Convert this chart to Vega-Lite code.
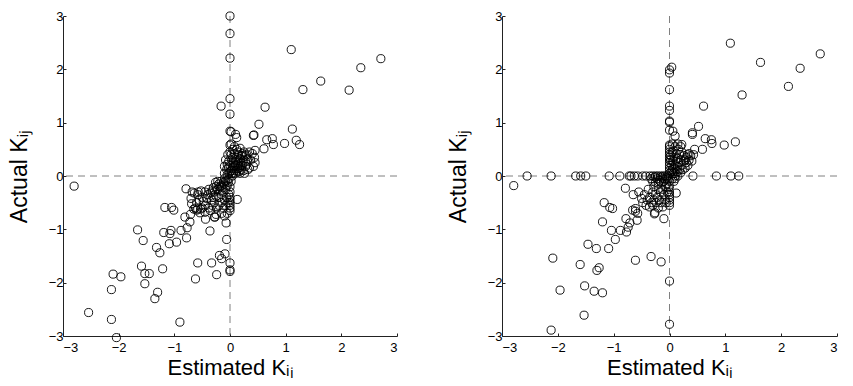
{
  "$schema": "https://vega.github.io/schema/vega-lite/v6.json",
  "background": "white",
  "padding": {"left": 8, "top": 10, "right": 5, "bottom": 0},
  "spacing": 49,
  "config": {
    "view": {"stroke": null},
    "font": "Liberation Sans",
    "axis": {
      "grid": false,
      "domainColor": "#222222",
      "tickColor": "#222222",
      "tickSize": -3,
      "labelPadding": 4,
      "labelFont": "Liberation Sans",
      "labelFontSize": 13,
      "labelColor": "#000000",
      "titleFont": "Liberation Sans",
      "titleFontSize": 22,
      "titleFontWeight": "normal",
      "titleColor": "#000000"
    },
    "axisX": {"titlePadding": 3, "labelPadding": 8},
    "axisY": {"titlePadding": 17, "labelPadding": 3, "titleFontSize": 23}
  },
  "datasets": {
    "left": [
      {"x":0,"y":3.0},{"x":0,"y":2.67},{"x":0,"y":2.21},{"x":1.10,"y":2.37},{"x":2.71,"y":2.2},{"x":2.35,"y":2.03},{"x":1.63,"y":1.78},{"x":1.31,"y":1.62},{"x":2.14,"y":1.61},{"x":0,"y":1.45},{"x":0,"y":1.16},{"x":-0.16,"y":1.31},{"x":0.63,"y":1.29},{"x":0.52,"y":0.97},{"x":1.12,"y":0.88},{"x":0,"y":0.84},{"x":0.02,"y":0.83},{"x":0.42,"y":0.76},{"x":0.43,"y":0.77},{"x":0.12,"y":0.72},{"x":0.10,"y":0.78},{"x":0.66,"y":0.68},{"x":0.76,"y":0.70},{"x":0.78,"y":0.59},{"x":0.98,"y":0.61},{"x":1.19,"y":0.67},{"x":1.25,"y":0.59},{"x":0,"y":0.58},{"x":0.61,"y":0.51},{"x":0.45,"y":0.48},{"x":0.35,"y":0.45},{"x":0.30,"y":0.40},{"x":0.25,"y":0.45},{"x":0.18,"y":0.52},{"x":0.44,"y":0.35},{"x":0.45,"y":0.25},{"x":0.42,"y":0.18},{"x":0.37,"y":0.30},{"x":0.28,"y":0.28},{"x":0.22,"y":0.38},{"x":0.40,"y":0.42},
      {"x":0.0,"y":0.45},{"x":0.02,"y":0.40},{"x":0.05,"y":0.35},{"x":0.08,"y":0.42},{"x":0.1,"y":0.3},{"x":0.12,"y":0.35},{"x":0.15,"y":0.28},{"x":0.18,"y":0.32},{"x":0.2,"y":0.25},{"x":0.22,"y":0.2},{"x":0.25,"y":0.3},{"x":0.28,"y":0.18},{"x":0.3,"y":0.22},{"x":0.32,"y":0.12},{"x":0.35,"y":0.15},{"x":0.15,"y":0.18},{"x":0.1,"y":0.2},{"x":0.06,"y":0.25},{"x":0.03,"y":0.3},{"x":-0.02,"y":0.28},{"x":-0.05,"y":0.22},{"x":-0.08,"y":0.3},{"x":-0.1,"y":0.18},{"x":-0.06,"y":0.12},{"x":-0.03,"y":0.15},{"x":0.0,"y":0.2},{"x":0.02,"y":0.1},{"x":0.05,"y":0.15},{"x":0.08,"y":0.1},{"x":0.12,"y":0.1},{"x":0.16,"y":0.08},{"x":0.2,"y":0.12},{"x":0.24,"y":0.1},{"x":0.06,"y":0.05},{"x":0.03,"y":0.05},{"x":0.0,"y":0.08},{"x":-0.02,"y":0.05},{"x":0.1,"y":0.05},{"x":0.14,"y":0.14},{"x":0.18,"y":0.05},{"x":0.26,"y":0.05},{"x":0.22,"y":0.42},{"x":0.14,"y":0.45},{"x":0.05,"y":0.5},{"x":-0.04,"y":0.4},{"x":0.08,"y":0.55},{"x":0.12,"y":0.5},{"x":0.02,"y":0.6},{"x":0.28,"y":0.38},{"x":0.32,"y":0.32},{"x":0.2,"y":0.38},{"x":0.15,"y":0.4},{"x":-0.1,"y":0.05},{"x":-0.05,"y":0.02},{"x":0.04,"y":0.0},{"x":0.07,"y":0.18},{"x":0.1,"y":0.25},{"x":0.13,"y":0.22},{"x":0.17,"y":0.15},{"x":0.19,"y":0.2},
      {"x":-0.02,"y":-0.05},{"x":-0.05,"y":-0.08},{"x":-0.08,"y":-0.1},{"x":-0.1,"y":-0.15},{"x":-0.12,"y":-0.12},{"x":-0.15,"y":-0.18},{"x":-0.18,"y":-0.2},{"x":-0.2,"y":-0.15},{"x":-0.22,"y":-0.25},{"x":-0.25,"y":-0.2},{"x":-0.28,"y":-0.3},{"x":-0.3,"y":-0.22},{"x":-0.32,"y":-0.28},{"x":-0.35,"y":-0.32},{"x":-0.38,"y":-0.25},{"x":-0.4,"y":-0.35},{"x":-0.05,"y":-0.18},{"x":-0.08,"y":-0.25},{"x":-0.12,"y":-0.3},{"x":-0.15,"y":-0.35},{"x":-0.18,"y":-0.28},{"x":-0.2,"y":-0.4},{"x":-0.25,"y":-0.38},{"x":-0.03,"y":-0.12},{"x":0.0,"y":-0.2},{"x":0.02,"y":-0.1},{"x":0.0,"y":-0.3},{"x":-0.02,"y":-0.35},{"x":-0.06,"y":-0.4},{"x":-0.1,"y":-0.45},{"x":-0.14,"y":-0.22},{"x":-0.16,"y":-0.1},{"x":-0.1,"y":-0.05},{"x":-0.22,"y":-0.1},{"x":-0.26,"y":-0.12},{"x":-0.3,"y":-0.4},{"x":-0.33,"y":-0.45},{"x":-0.42,"y":-0.42},{"x":-0.45,"y":-0.3},{"x":-0.48,"y":-0.48},{"x":-0.5,"y":-0.4},{"x":-0.52,"y":-0.28},{"x":-0.55,"y":-0.45},{"x":-0.58,"y":-0.35},{"x":-0.6,"y":-0.5},{"x":-0.62,"y":-0.6},{"x":-0.65,"y":-0.62},{"x":-0.68,"y":-0.3},{"x":-0.7,"y":-0.42},{"x":-0.44,"y":-0.55},{"x":-0.38,"y":-0.6},{"x":-0.32,"y":-0.55},{"x":-0.28,"y":-0.5},{"x":-0.24,"y":-0.6},{"x":-0.2,"y":-0.55},{"x":-0.16,"y":-0.5},{"x":-0.08,"y":-0.55},{"x":-0.04,"y":-0.5},{"x":0,"y":-0.45},{"x":0,"y":-0.5},{"x":0,"y":-0.55},{"x":0,"y":-0.6},{"x":0,"y":-0.65},{"x":0,"y":-0.4},{"x":0.13,"y":-0.44},{"x":-0.28,"y":-0.77},{"x":-0.25,"y":-0.72},{"x":-0.44,"y":-0.81},{"x":-0.36,"y":-1.03},{"x":-0.07,"y":-0.88},{"x":-0.06,"y":-1.19},{"x":-0.35,"y":-0.65},{"x":-0.45,"y":-0.68},{"x":-0.5,"y":-0.6},{"x":-0.12,"y":-0.6},{"x":-0.15,"y":-0.7},{"x":-0.1,"y":-0.75},{"x":-0.05,"y":-0.7},
      {"x":-2.80,"y":-0.19},{"x":-0.79,"y":-0.24},{"x":-1.17,"y":-0.59},{"x":-1.05,"y":-0.59},{"x":-1.01,"y":-0.64},{"x":-1.66,"y":-1.01},{"x":-1.56,"y":-1.21},{"x":-1.19,"y":-1.06},{"x":-1.06,"y":-1.02},{"x":-1.08,"y":-1.08},{"x":-1.09,"y":-1.27},{"x":-0.96,"y":-1.24},{"x":-0.88,"y":-1.02},{"x":-0.78,"y":-1.16},{"x":-0.77,"y":-0.97},{"x":-0.72,"y":-0.86},{"x":-0.81,"y":-0.77},{"x":-0.71,"y":-0.72},{"x":-0.60,"y":-0.64},{"x":-0.58,"y":-0.62},{"x":-0.53,"y":-0.62},{"x":-0.54,"y":-0.69},{"x":-0.69,"y":-0.52},{"x":-0.64,"y":-0.32},{"x":-0.57,"y":-0.30},{"x":-1.32,"y":-1.34},{"x":-1.26,"y":-1.44},{"x":-1.59,"y":-1.69},{"x":-1.21,"y":-1.74},{"x":-1.53,"y":-1.83},{"x":-1.45,"y":-1.83},{"x":-1.53,"y":-2.02},{"x":-2.10,"y":-1.84},{"x":-1.96,"y":-1.89},{"x":-2.13,"y":-2.13},{"x":-1.30,"y":-2.18},{"x":-1.35,"y":-2.30},{"x":-2.54,"y":-2.56},{"x":-2.13,"y":-2.69},{"x":-2.04,"y":-3.03},{"x":-0.90,"y":-2.74},{"x":-0.58,"y":-1.63},{"x":-0.62,"y":-1.93},{"x":-0.33,"y":-1.63},{"x":-0.24,"y":-1.85},{"x":-0.19,"y":-1.49},{"x":-0.15,"y":-1.55},{"x":-0.09,"y":-1.46},{"x":0,"y":-1.63},{"x":0,"y":-1.76},{"x":0,"y":-1.79},{"x":-0.27,"y":-0.77}
    ],
    "right": [
      {"x":1.09,"y":2.49},{"x":2.70,"y":2.29},{"x":1.63,"y":2.13},{"x":2.34,"y":2.02},{"x":2.13,"y":1.68},{"x":1.30,"y":1.52},{"x":0.04,"y":2.04},{"x":0,"y":1.99},{"x":0,"y":1.93},{"x":0,"y":1.62},{"x":0,"y":1.31},{"x":0,"y":1.23},{"x":0,"y":1.03},{"x":0,"y":1.01},{"x":0.61,"y":1.31},{"x":0.52,"y":0.93},{"x":0.41,"y":0.81},{"x":0.41,"y":0.78},{"x":0,"y":0.86},{"x":0.06,"y":0.84},{"x":0.10,"y":0.75},{"x":0.64,"y":0.70},{"x":0.75,"y":0.68},{"x":0.76,"y":0.61},{"x":0.98,"y":0.58},{"x":1.18,"y":0.64},{"x":0.59,"y":0.50},{"x":0,"y":0.58},{"x":0.22,"y":0.59},{"x":0.45,"y":0.5},{"x":0.43,"y":0.4},{"x":0.35,"y":0.42},{"x":0.3,"y":0.35},{"x":0.4,"y":0.28},{"x":0.33,"y":0.2},{"x":0,"y":0.55},{"x":0,"y":0.5},{"x":0,"y":0.45},
      {"x":-2.55,"y":0},{"x":-2.12,"y":0},{"x":-1.68,"y":0},{"x":-1.59,"y":0},{"x":-1.50,"y":0},{"x":-1.08,"y":0},{"x":-0.89,"y":0},{"x":-0.72,"y":0},{"x":-0.69,"y":0},{"x":-0.63,"y":0},{"x":-0.57,"y":0},{"x":-0.48,"y":0},{"x":-0.42,"y":0},{"x":-0.35,"y":0},{"x":-0.30,"y":0},{"x":-0.25,"y":0},{"x":-0.21,"y":0},{"x":-0.16,"y":0},{"x":-0.12,"y":0},{"x":-0.08,"y":0},{"x":-0.04,"y":0},{"x":0.42,"y":0},{"x":0.84,"y":0},{"x":1.10,"y":0},{"x":1.24,"y":0},{"x":0.1,"y":0},{"x":0.15,"y":0},
      {"x":-2.79,"y":-0.18},{"x":-0.79,"y":-0.23},{"x":-1.17,"y":-0.50},{"x":-1.07,"y":-0.59},{"x":-1.02,"y":-0.61},{"x":-1.20,"y":-0.86},{"x":-1.04,"y":-1.02},{"x":-0.88,"y":-1.02},{"x":-0.77,"y":-1.05},{"x":-0.74,"y":-0.96},{"x":-0.78,"y":-0.80},{"x":-0.71,"y":-0.88},{"x":-0.97,"y":-1.19},{"x":-1.09,"y":-1.36},{"x":-1.46,"y":-1.28},{"x":-1.31,"y":-1.36},{"x":-2.09,"y":-1.54},{"x":-1.60,"y":-1.66},{"x":-1.26,"y":-1.72},{"x":-1.30,"y":-1.77},{"x":-1.52,"y":-2.06},{"x":-1.96,"y":-2.14},{"x":-1.35,"y":-2.16},{"x":-1.20,"y":-2.19},{"x":-1.53,"y":-2.61},{"x":-2.12,"y":-2.89},{"x":-0.61,"y":-1.58},{"x":-0.33,"y":-1.51},{"x":-0.15,"y":-1.61},{"x":0,"y":-1.97},{"x":0,"y":-2.78},{"x":-0.10,"y":-0.80},{"x":0.12,"y":-0.32},{"x":-0.27,"y":-0.71},{"x":-0.26,"y":-0.69},{"x":-0.61,"y":-0.61},{"x":-0.61,"y":-0.66},{"x":-0.57,"y":-0.70},{"x":-0.58,"y":-0.83},{"x":-0.66,"y":-0.64},{"x":-0.65,"y":-0.35},{"x":-0.55,"y":-0.3},
      {"x":0.0,"y":0.05},{"x":0.0,"y":0.1},{"x":0.0,"y":0.15},{"x":0.0,"y":0.2},{"x":0.0,"y":0.25},{"x":0.0,"y":0.3},{"x":0.0,"y":0.35},{"x":0.0,"y":0.4},{"x":0.03,"y":0.08},{"x":0.05,"y":0.12},{"x":0.04,"y":0.2},{"x":0.06,"y":0.28},{"x":0.08,"y":0.15},{"x":0.1,"y":0.22},{"x":0.12,"y":0.3},{"x":0.14,"y":0.18},{"x":0.16,"y":0.25},{"x":0.18,"y":0.12},{"x":0.2,"y":0.3},{"x":0.22,"y":0.2},{"x":0.25,"y":0.28},{"x":0.28,"y":0.15},{"x":0.3,"y":0.25},{"x":0.26,"y":0.38},{"x":0.18,"y":0.4},{"x":0.12,"y":0.42},{"x":0.08,"y":0.35},{"x":0.05,"y":0.45},{"x":0.1,"y":0.05},{"x":0.14,"y":0.08},{"x":0.2,"y":0.06},{"x":0.24,"y":0.12},{"x":0.06,"y":0.04},{"x":0.02,"y":0.3},{"x":0.02,"y":0.38},{"x":0.15,"y":0.33},{"x":0.22,"y":0.45},{"x":0.32,"y":0.4},{"x":0.28,"y":0.3},{"x":0.12,"y":0.12},{"x":0.08,"y":0.08},{"x":0.35,"y":0.3},{"x":0.38,"y":0.38},{"x":0.16,"y":0.5},{"x":0.1,"y":0.55},{"x":0.05,"y":0.6},{"x":0.15,"y":0.6},{"x":0.2,"y":0.55},
      {"x":-0.02,"y":-0.05},{"x":-0.05,"y":-0.03},{"x":-0.08,"y":-0.06},{"x":-0.1,"y":-0.1},{"x":-0.12,"y":-0.05},{"x":-0.15,"y":-0.12},{"x":-0.18,"y":-0.08},{"x":-0.2,"y":-0.15},{"x":-0.22,"y":-0.05},{"x":-0.25,"y":-0.12},{"x":-0.28,"y":-0.2},{"x":-0.3,"y":-0.1},{"x":-0.05,"y":-0.15},{"x":-0.08,"y":-0.2},{"x":-0.12,"y":-0.25},{"x":-0.16,"y":-0.3},{"x":-0.2,"y":-0.25},{"x":-0.25,"y":-0.35},{"x":-0.3,"y":-0.3},{"x":-0.35,"y":-0.4},{"x":-0.32,"y":-0.5},{"x":-0.28,"y":-0.45},{"x":-0.22,"y":-0.4},{"x":-0.18,"y":-0.45},{"x":-0.1,"y":-0.35},{"x":-0.04,"y":-0.3},{"x":-0.38,"y":-0.25},{"x":-0.4,"y":-0.45},{"x":-0.45,"y":-0.35},{"x":-0.42,"y":-0.55},{"x":-0.36,"y":-0.58},{"x":-0.3,"y":-0.55},{"x":-0.24,"y":-0.5},{"x":-0.48,"y":-0.5},{"x":-0.5,"y":-0.42},{"x":-0.15,"y":-0.5},{"x":-0.08,"y":-0.45},{"x":0,"y":-0.1},{"x":0,"y":-0.2},{"x":0,"y":-0.3},{"x":0,"y":-0.35},{"x":0,"y":-0.4},{"x":0,"y":-0.45},{"x":0,"y":-0.5},{"x":0,"y":-0.55},{"x":0.05,"y":-0.05},{"x":0.08,"y":-0.1},{"x":0.1,"y":-0.05},{"x":-0.14,"y":-0.02},{"x":-0.26,"y":-0.02},{"x":-0.33,"y":-0.05},{"x":-0.02,"y":-0.22},{"x":-0.06,"y":-0.5},{"x":-0.12,"y":-0.58},{"x":-0.2,"y":-0.6}
    ]
  },
  "hconcat": [
    {
      "width": 334,
      "height": 320,
      "layer": [
        {"data": {"values": [{"v": 0}]}, "mark": {"type": "rule", "color": "#808080", "strokeDash": [7, 5], "strokeWidth": 1}, "encoding": {"x": {"datum": 0, "type": "quantitative", "scale": {"domain": [-3, 3], "nice": false}}}},
        {"data": {"values": [{"v": 0}]}, "mark": {"type": "rule", "color": "#808080", "strokeDash": [7, 5], "strokeWidth": 1}, "encoding": {"y": {"datum": 0, "type": "quantitative", "scale": {"domain": [-3, 3], "nice": false}}}},
        {
          "data": {"name": "left"},
          "mark": {"type": "point", "shape": "circle", "filled": false, "color": "#000000", "size": 66, "strokeWidth": 0.9, "opacity": 1},
          "encoding": {
            "x": {"field": "x", "type": "quantitative", "scale": {"domain": [-3, 3], "nice": false}, "axis": {"title": "Estimated Kᵢⱼ", "values": [-3, -2, -1, 0, 1, 2, 3], "format": "d"}},
            "y": {"field": "y", "type": "quantitative", "scale": {"domain": [-3, 3], "nice": false}, "axis": {"title": "Actual Kᵢⱼ", "values": [-3, -2, -1, 0, 1, 2, 3], "format": "d"}}
          }
        }
      ]
    },
    {
      "width": 335,
      "height": 320,
      "layer": [
        {"data": {"values": [{"v": 0}]}, "mark": {"type": "rule", "color": "#808080", "strokeDash": [7, 5], "strokeWidth": 1}, "encoding": {"x": {"datum": 0, "type": "quantitative", "scale": {"domain": [-3, 3], "nice": false}}}},
        {"data": {"values": [{"v": 0}]}, "mark": {"type": "rule", "color": "#808080", "strokeDash": [7, 5], "strokeWidth": 1}, "encoding": {"y": {"datum": 0, "type": "quantitative", "scale": {"domain": [-3, 3], "nice": false}}}},
        {
          "data": {"name": "right"},
          "mark": {"type": "point", "shape": "circle", "filled": false, "color": "#000000", "size": 66, "strokeWidth": 0.9, "opacity": 1},
          "encoding": {
            "x": {"field": "x", "type": "quantitative", "scale": {"domain": [-3, 3], "nice": false}, "axis": {"title": "Estimated Kᵢⱼ", "values": [-3, -2, -1, 0, 1, 2, 3], "format": "d"}},
            "y": {"field": "y", "type": "quantitative", "scale": {"domain": [-3, 3], "nice": false}, "axis": {"title": "Actual Kᵢⱼ", "values": [-3, -2, -1, 0, 1, 2, 3], "format": "d"}}
          }
        }
      ]
    }
  ]
}
